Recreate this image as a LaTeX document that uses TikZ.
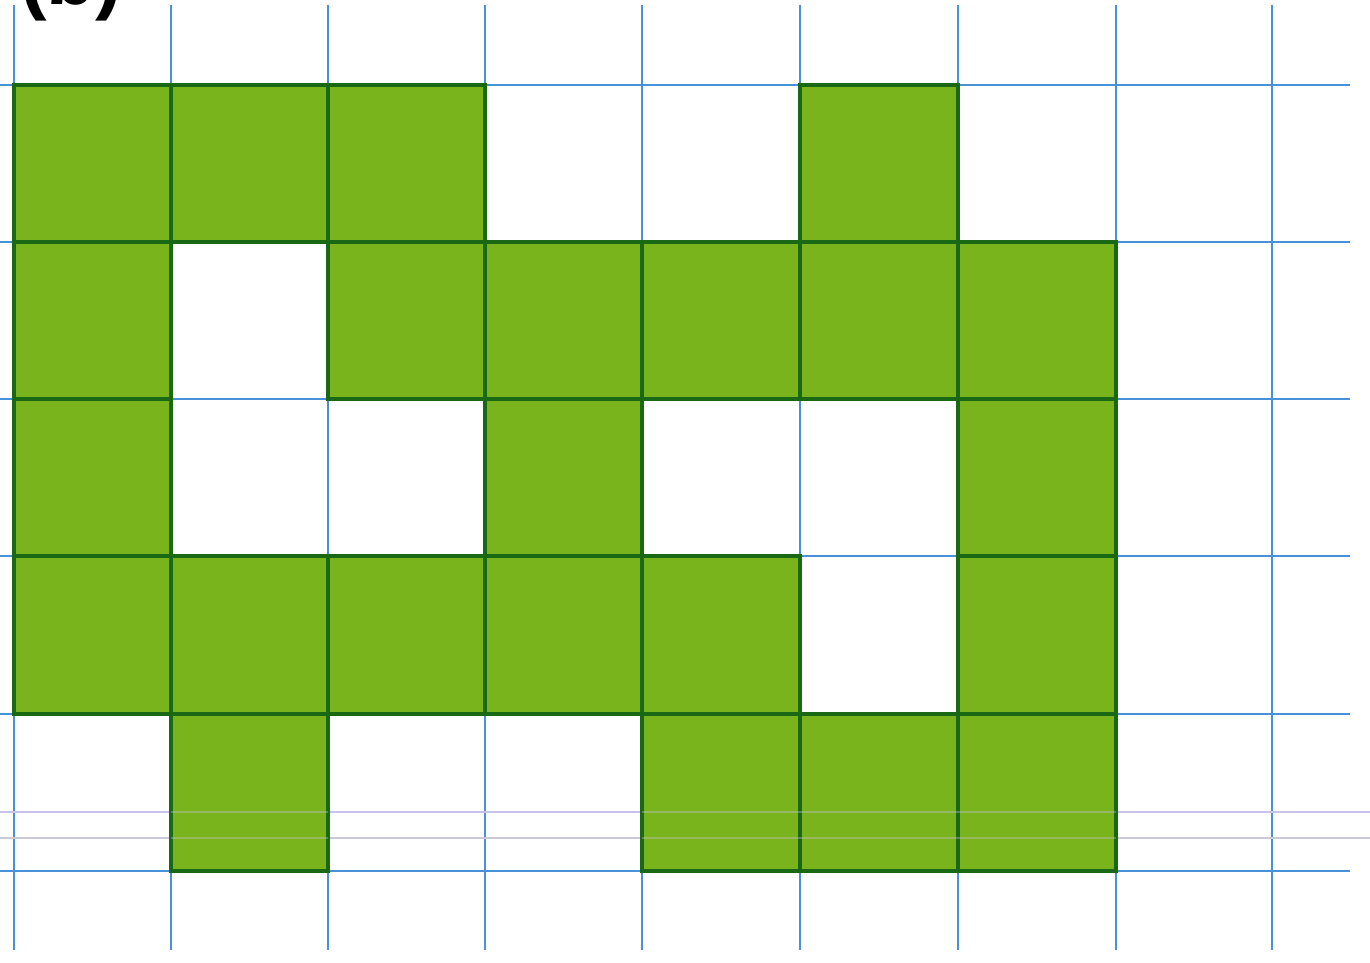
\documentclass[tikz,border=0pt]{standalone}
\usepackage{fontspec}
\setmainfont{Liberation Sans}
\begin{document}
\begin{tikzpicture}[x=1pt,y=-1pt,
  gridline/.style={draw=gridblue,line width=2.6pt},
  faint/.style={draw=faintviolet,line width=1.8pt},
  cell/.style={fill=leafgreen,draw=darkgreen,line width=3.5pt,line join=miter}]
\definecolor{gridblue}{RGB}{70,145,215}
\definecolor{faintviolet}{RGB}{200,195,235}
\definecolor{faintgray}{RGB}{205,200,215}
\definecolor{leafgreen}{RGB}{122,180,28}
\definecolor{darkgreen}{RGB}{25,105,20}
\useasboundingbox (0,0) rectangle (1370,963);
\fill[white] (0,0) rectangle (1370,963);
% grid
\foreach \x in {14,171,328,485,642,800,958,1116,1272}
  \draw[gridline] (\x,5) -- (\x,950);
\foreach \y in {85,242,399,556,714,871}
  \draw[gridline] (0,\y) -- (1350,\y);
\draw[faint] (0,812) -- (1370,812);
\draw[draw=faintgray,line width=1.8pt] (0,838) -- (1370,838);
% green cells: column index, row index
\def\xs{{14,171,328,485,642,800,958,1116,1272}}
\def\ys{{85,242,399,556,714,871}}
\foreach \c/\r in {0/0,1/0,2/0,5/0,
                   0/1,2/1,3/1,4/1,5/1,6/1,
                   0/2,3/2,6/2,
                   0/3,1/3,2/3,3/3,4/3,6/3,
                   1/4,4/4,5/4,6/4}{
  \pgfmathsetmacro\xa{\xs[\c]}
  \pgfmathsetmacro\xb{\xs[\c+1]}
  \pgfmathsetmacro\ya{\ys[\r]}
  \pgfmathsetmacro\yb{\ys[\r+1]}
  \draw[cell] (\xa,\ya) rectangle (\xb,\yb);
}
% faint lines showing through the lower green cells
\draw[faint,opacity=0.35] (171,812) -- (328,812) (642,812) -- (1116,812);
\draw[draw=faintgray,line width=1.8pt,opacity=0.35] (171,838) -- (328,838) (642,838) -- (1116,838);
% label (cut off at the top edge, as in the reference)
\node[anchor=base west,font=\bfseries\fontsize{80}{90}\selectfont,inner sep=0pt] (lab) at (20,5) {(b)};
\end{tikzpicture}
\end{document}
